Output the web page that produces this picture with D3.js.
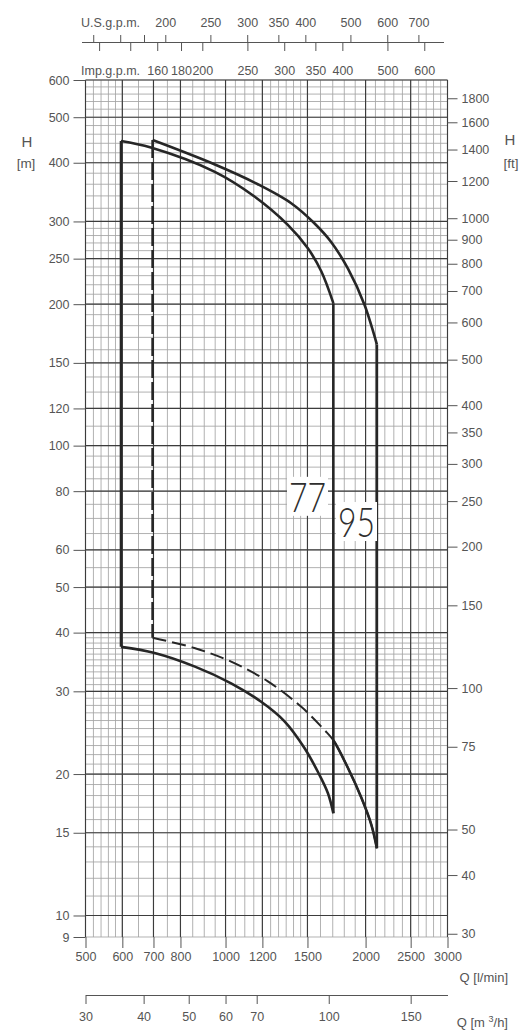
<!DOCTYPE html>
<meta charset="utf-8">
<title>Pump range 77 / 95</title>
<style>
body { margin: 0; background: #fff; }
svg { display: block; }
text { font-family: "Liberation Sans", Arial, sans-serif; fill: #555; }
.axis text { font-size: 12.5px; }
.axis line, .axis path { stroke: #555; stroke-width: 1; }
.grid-minor { stroke: #a4a4a4; stroke-width: 0.85; }
.grid-major { stroke: #3c3c3c; stroke-width: 1.15; }
.curve { fill: none; stroke: #262626; stroke-width: 2.6; stroke-linejoin: round; }
.model { font-family: Lato, "Liberation Sans", sans-serif; font-weight: 300; font-size: 42px; fill: #2e2e2e; }
</style>
<body>
<svg width="528" height="1030"></svg>
<script src="https://cdnjs.cloudflare.com/ajax/libs/d3/7.8.5/d3.min.js"></script>
<script>

// axis ticks
var qTicks = [500, 600, 700, 800, 1000, 1200, 1500, 2000, 2500, 3000];
var hTicks = [9, 10, 15, 20, 30, 40, 50, 60, 80, 100, 120, 150, 200, 250, 300, 400, 500, 600];
var ftTicks = [30, 40, 50, 75, 100, 150, 200, 250, 300, 350, 400, 500, 600, 700, 800, 900, 1000, 1200, 1400, 1600, 1800];
var m3hTicks = [30, 40, 50, 60, 70, 100, 150];
var usTicks = [140, 160, 180, 200, 250, 300, 350, 400, 500, 600, 700];
var usLabels = [200, 250, 300, 350, 400, 500, 600, 700];
var impTicks = [120, 140, 160, 180, 200, 250, 300, 350, 400, 500, 600];
var impLabels = [160, 180, 200, 250, 300, 350, 400, 500, 600];

// pump 77 envelope (Q in l/min, H in m)
var q77Left = 596;
var q77Right = 1705;
var q77Top = [596, 691, 946, 1154, 1361, 1503, 1606, 1705];
var h77Top = [445, 431, 383, 339, 295, 263, 235, 201];
var q77Bot = [596, 704, 857, 1028, 1193, 1339, 1479, 1580, 1660, 1705];
var h77Bot = [37.3, 36.2, 33.9, 31.2, 28.5, 25.9, 22.7, 20.2, 18.2, 16.5];

// pump 95 envelope
var q95Left = 697;
var q95Right = 2115;
var q95Top = [697, 946, 1173, 1384, 1554, 1688, 1833, 1991, 2115];
var h95Top = [447, 397, 360, 328, 297, 271, 238, 199, 164];
var q95Bot = [697, 857, 1028, 1233, 1455, 1633, 1705, 1833, 1959, 2058, 2115];
var h95Bot = [39.0, 37.1, 34.7, 31.5, 27.8, 24.8, 23.6, 20.6, 17.8, 15.6, 13.9];
var dashEnd95 = 6; // lower 95 curve is dashed up to this point

// model labels
var modelNames = ["77", "95"];
var modelLabelQ = [1369, 1745];
var modelLabelH = [72.3, 63.9];

var US_GPM = 3.785, IMP_GPM = 4.546, M3H = 16.667, FT = 0.3048;

var svg = d3.select("svg");
var x = d3.scaleLog().domain([500, 3000]).range([85.5, 447.5]);
var y = d3.scaleLog().domain([9, 600]).range([937, 80]);
var x0 = x.range()[0], x1 = x.range()[1], y0 = y.range()[0], y1 = y.range()[1];

// grid
var vMinor = d3.range(500, 600, 20).concat(d3.range(600, 1500, 50), d3.range(1500, 3001, 100));
var hMinor = d3.range(9, 40, 1).concat(d3.range(40, 100, 5), d3.range(100, 300, 10), d3.range(300, 601, 20));

var grid = svg.append("g");
grid.selectAll(".vmin").data(vMinor).enter().append("line")
    .attr("class", "grid-minor")
    .attr("x1", function(d) { return x(d); }).attr("x2", function(d) { return x(d); })
    .attr("y1", y0).attr("y2", y1);
grid.selectAll(".hmin").data(hMinor).enter().append("line")
    .attr("class", "grid-minor")
    .attr("y1", function(d) { return y(d); }).attr("y2", function(d) { return y(d); })
    .attr("x1", x0).attr("x2", x1);
grid.selectAll(".vmaj").data(qTicks).enter().append("line")
    .attr("class", "grid-major")
    .attr("x1", function(d) { return x(d); }).attr("x2", function(d) { return x(d); })
    .attr("y1", y0).attr("y2", y1);
grid.selectAll(".hmaj").data(hTicks.slice(1)).enter().append("line")
    .attr("class", "grid-major")
    .attr("y1", function(d) { return y(d); }).attr("y2", function(d) { return y(d); })
    .attr("x1", x0).attr("x2", x1);

// axes
var fmt = d3.format("d");
svg.append("g").attr("class", "axis")
    .attr("transform", "translate(0," + y0 + ")")
    .call(d3.axisBottom(x).tickValues(qTicks).tickFormat(fmt).tickSize(11).tickPadding(4))
    .call(function(g) { g.select(".domain").remove(); });

svg.append("g").attr("class", "axis")
    .attr("transform", "translate(" + x0 + ",0)")
    .call(d3.axisLeft(y).tickValues(hTicks).tickFormat(fmt).tickSize(12).tickPadding(4))
    .call(function(g) { g.select(".domain").remove(); });

var yft = d3.scaleLog().domain([9 / FT, 600 / FT]).range([y0, y1]);
svg.append("g").attr("class", "axis")
    .attr("transform", "translate(" + x1 + ",0)")
    .call(d3.axisRight(yft).tickValues(ftTicks).tickFormat(fmt).tickSize(10).tickPadding(4))
    .call(function(g) { g.select(".domain").remove(); });

var xm = d3.scaleLog().domain([500 / M3H, 3000 / M3H]).range([x0, x1]);
svg.append("g").attr("class", "axis")
    .attr("transform", "translate(0,995)")
    .call(d3.axisBottom(xm).tickValues(m3hTicks).tickFormat(fmt).tickSize(9).tickSizeOuter(0).tickPadding(8));

// gallons per minute on top (drawn a few px left, like the print)
var xus = d3.scaleLog().domain([500 / US_GPM, 3000 / US_GPM]).range([x0 - 4, x1 - 4]);
var ximp = d3.scaleLog().domain([500 / IMP_GPM, 3000 / IMP_GPM]).range([x0 - 4, x1 - 4]);
svg.append("g").attr("class", "axis")
    .attr("transform", "translate(0,42)")
    .call(d3.axisTop(xus).tickValues(usTicks).tickSize(7).tickSizeOuter(0).tickPadding(8)
        .tickFormat(function(d) { return usLabels.indexOf(d) >= 0 ? fmt(d) : ""; }));
svg.append("g").attr("class", "axis")
    .attr("transform", "translate(0,42)")
    .call(d3.axisBottom(ximp).tickValues(impTicks).tickSize(9).tickSizeOuter(0).tickPadding(15)
        .tickFormat(function(d) { return impLabels.indexOf(d) >= 0 ? fmt(d) : ""; }))
    .call(function(g) { g.select(".domain").remove(); });

// axis titles
svg.append("text").attr("x", 81).attr("y", 27).style("font-size", "12.5px").text("U.S.g.p.m.");
svg.append("text").attr("x", 81).attr("y", 75).style("font-size", "12.5px").text("Imp.g.p.m.");
svg.append("text").attr("x", 27).attr("y", 147).attr("text-anchor", "middle").style("font-size", "15px").text("H");
svg.append("text").attr("x", 26).attr("y", 168).attr("text-anchor", "middle").style("font-size", "13.5px").text("[m]");
svg.append("text").attr("x", 510).attr("y", 145).attr("text-anchor", "middle").style("font-size", "15px").text("H");
svg.append("text").attr("x", 511).attr("y", 168).attr("text-anchor", "middle").style("font-size", "13.5px").text("[ft]");
svg.append("text").attr("x", 508).attr("y", 982).attr("text-anchor", "end").style("font-size", "13px").text("Q [l/min]");
var qm = svg.append("text").attr("x", 508).attr("y", 1027).attr("text-anchor", "end").style("font-size", "13px");
qm.append("tspan").text("Q [m ");
qm.append("tspan").attr("dy", -5).style("font-size", "9px").text("3");
qm.append("tspan").attr("dy", 5).text("/h]");

// curves
function pts(qs, hs) { return qs.map(function(q, i) { return [x(q), y(hs[i])]; }); }
var smooth = d3.line().curve(d3.curveCatmullRom.alpha(0.5));
var straight = d3.line();
var curves = svg.append("g");

// 77
curves.append("path").attr("class", "curve")
    .attr("d", straight([[x(q77Left), y(h77Bot[0])], [x(q77Left), y(h77Top[0])]]));
curves.append("path").attr("class", "curve").attr("d", smooth(pts(q77Top, h77Top)));
curves.append("path").attr("class", "curve")
    .attr("d", straight([[x(q77Right), y(h77Top[h77Top.length - 1])], [x(q77Right), y(h77Bot[h77Bot.length - 1])]]));
curves.append("path").attr("class", "curve").attr("d", smooth(pts(q77Bot, h77Bot)));

// 95
curves.append("path").attr("class", "curve").style("stroke-dasharray", "18,4")
    .attr("d", straight([[x(q95Left), y(h95Top[0])], [x(q95Left), y(h95Bot[0])]]));
curves.append("path").attr("class", "curve").attr("d", smooth(pts(q95Top, h95Top)));
curves.append("path").attr("class", "curve")
    .attr("d", straight([[x(q95Right), y(h95Top[h95Top.length - 1])], [x(q95Right), y(h95Bot[h95Bot.length - 1])]]));
// whole lower 95 curve smoothed once, then split into dashed and solid parts
var low95 = svg.append("path").attr("d", smooth(pts(q95Bot, h95Bot))).remove().node();
var splitLen = (function() {
    var L = low95.getTotalLength(), target = x(q95Bot[dashEnd95]), lo = 0, hi = L;
    for (var k = 0; k < 30; k++) {
        var mid = (lo + hi) / 2;
        if (low95.getPointAtLength(mid).x < target) lo = mid; else hi = mid;
    }
    return { at: lo, total: L };
})();
curves.append("path").attr("class", "curve").attr("d", smooth(pts(q95Bot, h95Bot)))
    .style("stroke-width", 2)
    .style("stroke-dasharray", (function() {
        var s = [], pos = 0;
        while (pos + 20 < splitLen.at) { s.push(14, 6); pos += 20; }
        s.push(splitLen.at - pos, 0, splitLen.total, 0);
        return s.join(",");
    })());
curves.append("path").attr("class", "curve")
    .attr("d", smooth(pts(q95Bot, h95Bot)))
    .style("stroke-dasharray", "0," + splitLen.at + "," + splitLen.total);

// model numbers on white patches
var lab = svg.append("g");
modelNames.forEach(function(name, i) {
    var lx = x(modelLabelQ[i]), ly = y(modelLabelH[i]);
    lab.append("rect").attr("x", lx - 2).attr("y", ly - 35).attr("width", 41).attr("height", 39).attr("fill", "#fff");
    lab.append("text").attr("class", "model").attr("x", lx).attr("y", ly)
        .attr("textLength", 37).attr("lengthAdjust", "spacingAndGlyphs")
        .text(name);
});

</script>
</body>
